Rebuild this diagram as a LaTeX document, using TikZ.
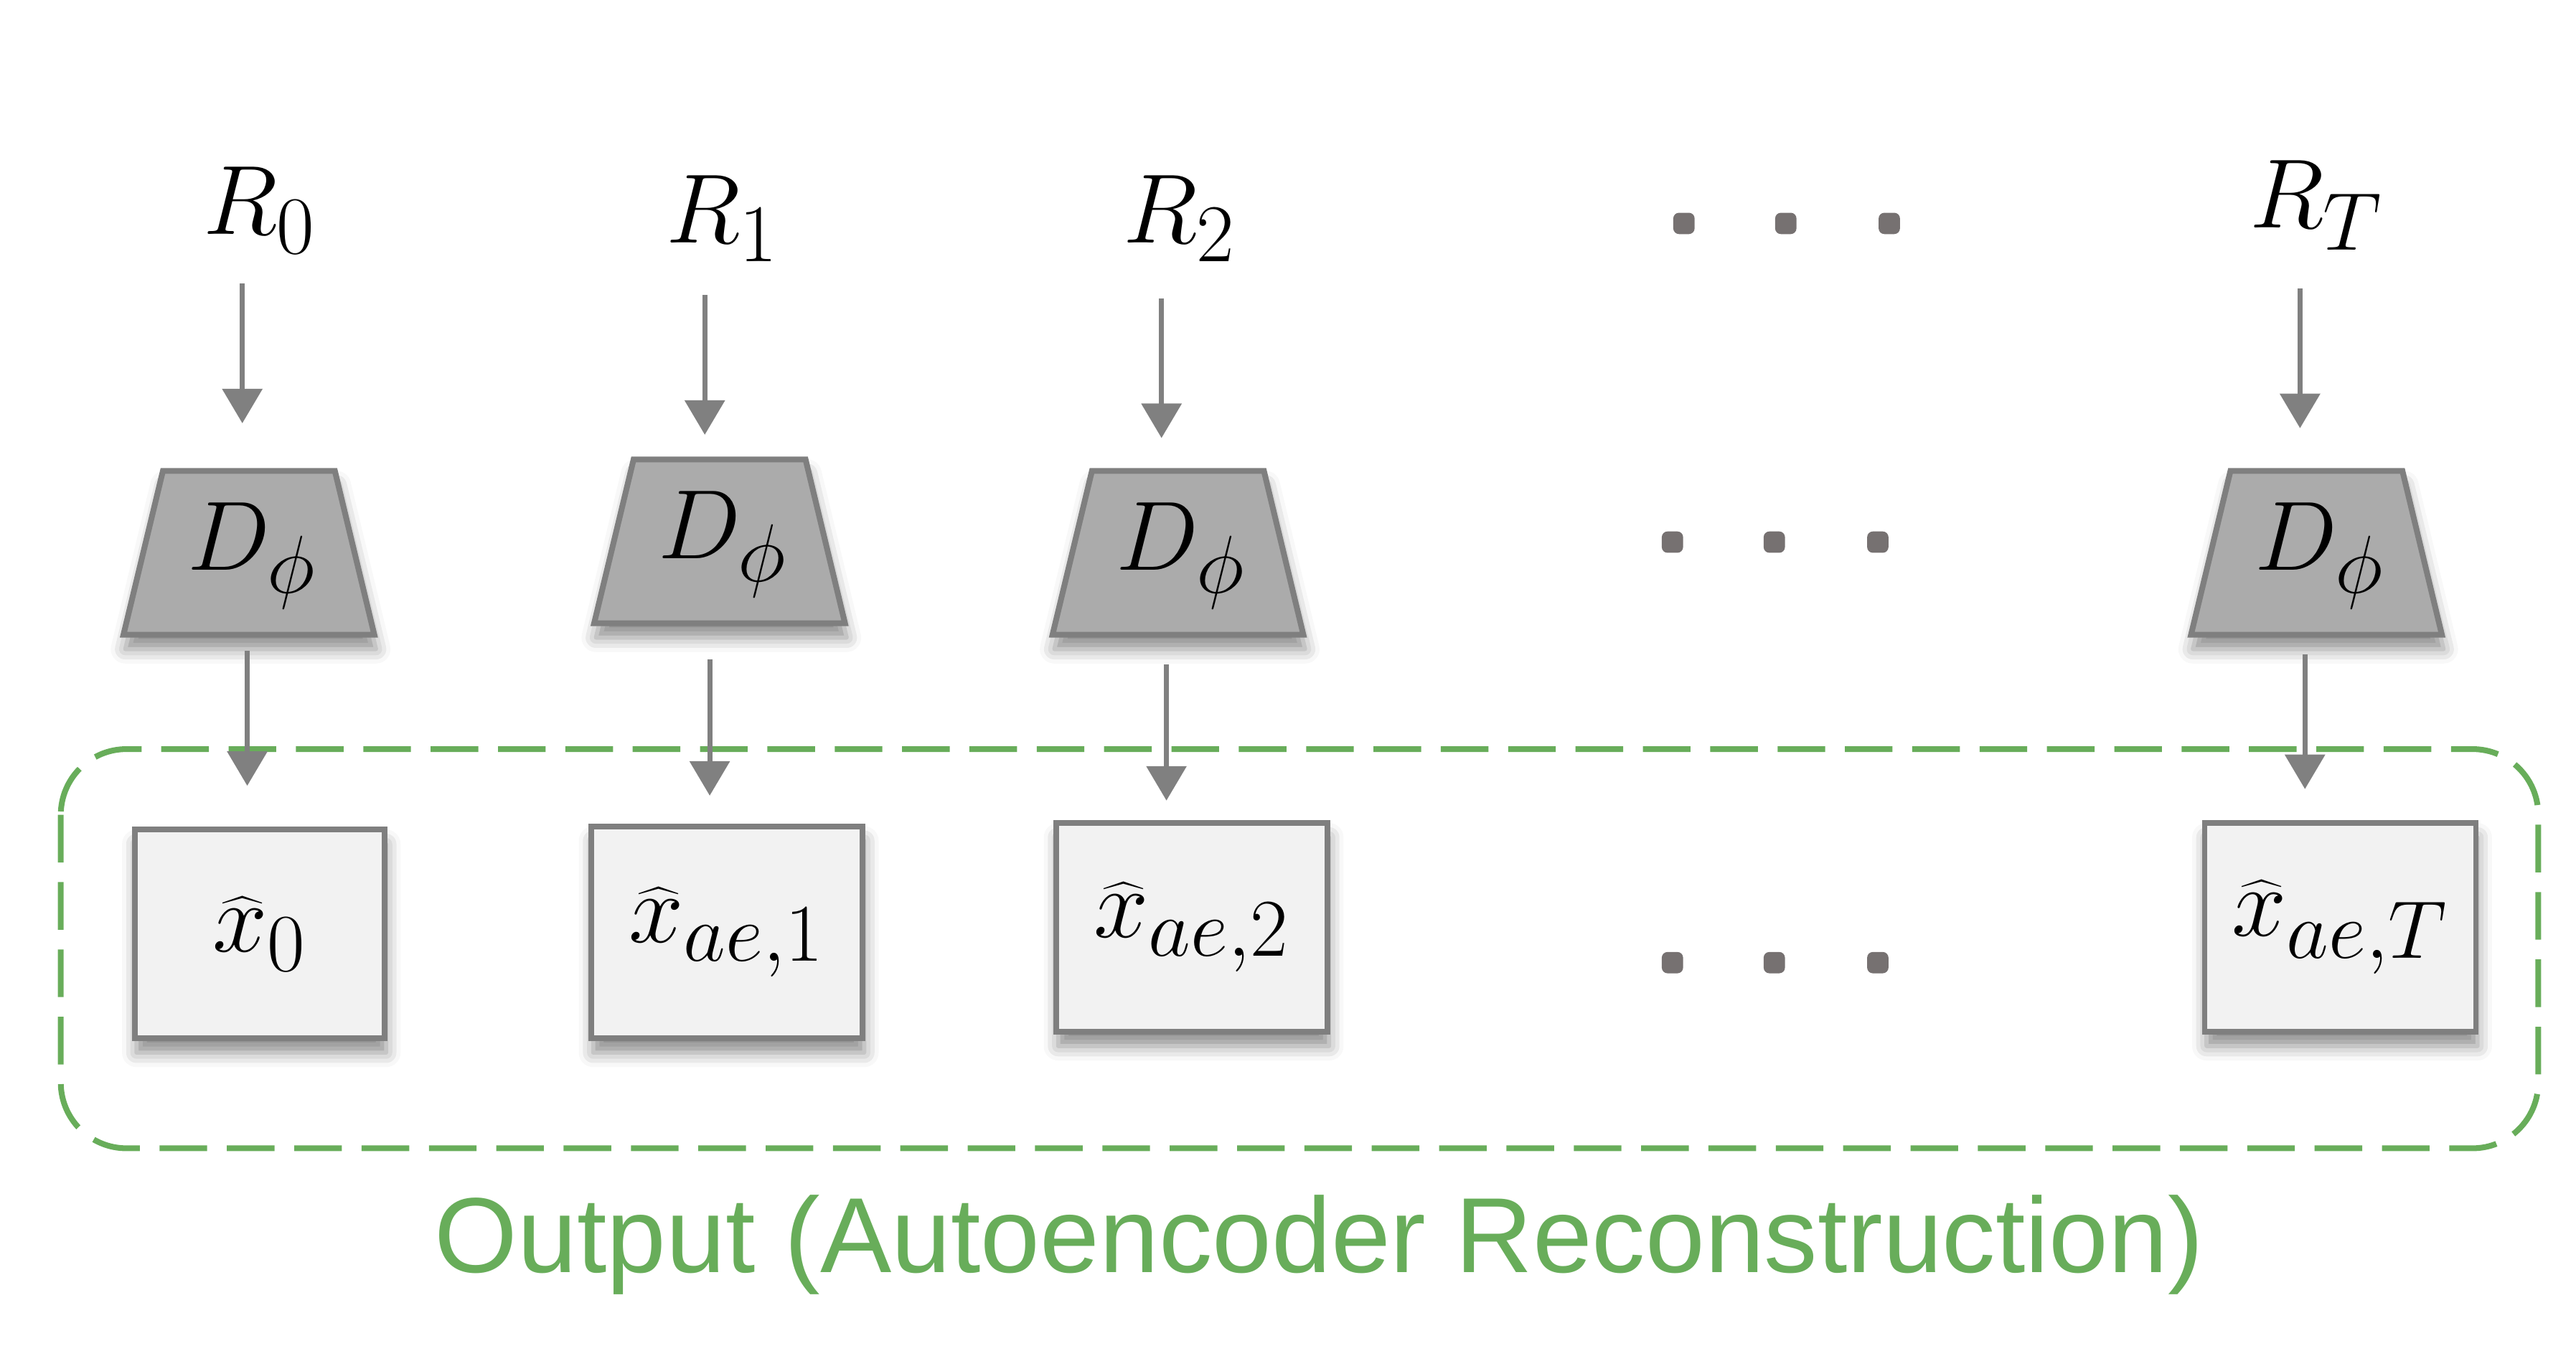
\documentclass[tikz,border=0pt]{standalone}
\usepackage{fontspec}
\newfontfamily\labelfont{Liberation Sans}
\usetikzlibrary{arrows.meta,calc,shadows.blur}
\definecolor{arrgray}{RGB}{128,128,128}
\definecolor{edgegray}{RGB}{127,127,127}
\definecolor{trapfill}{RGB}{171,171,171}
\definecolor{boxfill}{RGB}{242,242,242}
\definecolor{outgreen}{RGB}{104,173,90}
\definecolor{dotgray}{RGB}{118,113,113}
\newcommand{\mbigtxt}[1]{\scalebox{1.37}{\Huge$#1$}}
\tikzset{
  mathtext/.style={inner sep=0pt},
  softshadow/.style={blur shadow={shadow xshift=0.6pt, shadow yshift=-5pt, shadow blur radius=5pt, shadow opacity=45}},
  decframe/.style={shape=rectangle, minimum width=3.04cm, minimum height=1.98cm, inner sep=0pt},
  decshape/.style={fill=trapfill, draw=edgegray, line width=2pt, line join=miter, softshadow},
  outbox/.style={shape=rectangle, fill=boxfill, draw=edgegray, line width=1.9pt,
    inner sep=0pt, softshadow},
  arr/.style={draw=arrgray, line width=1.7pt, -{Triangle[width=0.48cm,length=0.42cm]}},
  dotmark/.style={shape=rectangle, rounded corners=2pt, fill=dotgray, minimum size=0.26cm, inner sep=0pt},
  frame/.style={draw=outgreen, line width=2pt, dash pattern=on 0.58cm off 0.24cm, rounded corners=0.8cm},
}
\newcommand{\trapez}[1]{%
  \path[decshape] (#1.south west) -- (#1.south east)
    -- ($(#1.north east)+(-24,0)$) -- ($(#1.north west)+(24,0)$) -- cycle;}
\begin{document}
\begin{tikzpicture}[x=0.02cm, y=-0.02cm]
\useasboundingbox (0,0) rectangle (1568,819);

% input labels
\node[mathtext] (r0) at (158,128) {\mbigtxt{R_0}};
\node[mathtext] (r1) at (440,133) {\mbigtxt{R_1}};
\node[mathtext] (r2) at (718,133) {\mbigtxt{R_2}};
\node[mathtext] (rT) at (1410,125) {\mbigtxt{R_T}};

% decoders (frames for anchors, then trapezoid, then label)
\node[decframe] (d0) at (151.5,336.5) {};
\node[decframe] (d1) at (438,329.5) {};
\node[decframe] (d2) at (717,336.5) {};
\node[decframe] (dT) at (1410,336.5) {};
\trapez{d0}
\trapez{d1}
\trapez{d2}
\trapez{dT}
\node[mathtext] (d0t) at ($(d0)+(2,2)$) {\mbigtxt{D_\phi}};
\node[mathtext] (d1t) at ($(d1)+(2,2)$) {\mbigtxt{D_\phi}};
\node[mathtext] (d2t) at ($(d2)+(2,2)$) {\mbigtxt{D_\phi}};
\node[mathtext] (dTt) at ($(dT)+(2,2)$) {\mbigtxt{D_\phi}};

% frame
\draw[frame] (37,456) rectangle (1545,699);

% outputs
\node[outbox, minimum width=3.04cm, minimum height=2.54cm] (x0) at (158,568.5) {\mbigtxt{\widehat{x}_0}};
\node[outbox, minimum width=3.3cm, minimum height=2.58cm] (x1) at (442.5,567.5) {\mbigtxt{\widehat{x}_{ae,1}}};
\node[outbox, minimum width=3.3cm, minimum height=2.54cm] (x2) at (725.5,564.5) {\mbigtxt{\widehat{x}_{ae,2}}};
\node[outbox, minimum width=3.3cm, minimum height=2.54cm] (xT) at (1424.5,564.5) {\mbigtxt{\widehat{x}_{ae,T}}};

% arrows
\draw[arr] ($(d0.north)+(-4,-114)$) -- ($(d0.north)+(-4,-29)$);
\draw[arr] ($(d1.north)+(-9,-100)$) -- ($(d1.north)+(-9,-15)$);
\draw[arr] ($(d2.north)+(-10,-105)$) -- ($(d2.north)+(-10,-20)$);
\draw[arr] ($(dT.north)+(-10,-111)$) -- ($(dT.north)+(-10,-26)$);

\draw[arr] ($(d0.south)+(-1,10)$) -- ($(x0.north -| d0.south)+(-1,-25)$);
\draw[arr] ($(d1.south)+(-6,22)$) -- ($(x1.north -| d1.south)+(-6,-17)$);
\draw[arr] ($(d2.south)+(-7,18)$) -- ($(x2.north -| d2.south)+(-7,-12)$);
\draw[arr] ($(dT.south)+(-7,12)$) -- ($(xT.north -| dT.south)+(-7,-19)$);

% ellipsis dots
\node[dotmark] (e1a) at (1025,136) {};
\node[dotmark] (e1b) at (1087,136) {};
\node[dotmark] (e1c) at (1150,136) {};
\node[dotmark] (e2a) at (1018,330) {};
\node[dotmark] (e2b) at (1080,330) {};
\node[dotmark] (e2c) at (1143,330) {};
\node[dotmark] (e3a) at (1018,586) {};
\node[dotmark] (e3b) at (1080,586) {};
\node[dotmark] (e3c) at (1143,586) {};

% caption
\node[text=outgreen, font=\labelfont\fontsize{37}{44}\selectfont, inner sep=0pt] (cap) at (803,758) {Output (Autoencoder Reconstruction)};
\end{tikzpicture}
\end{document}
